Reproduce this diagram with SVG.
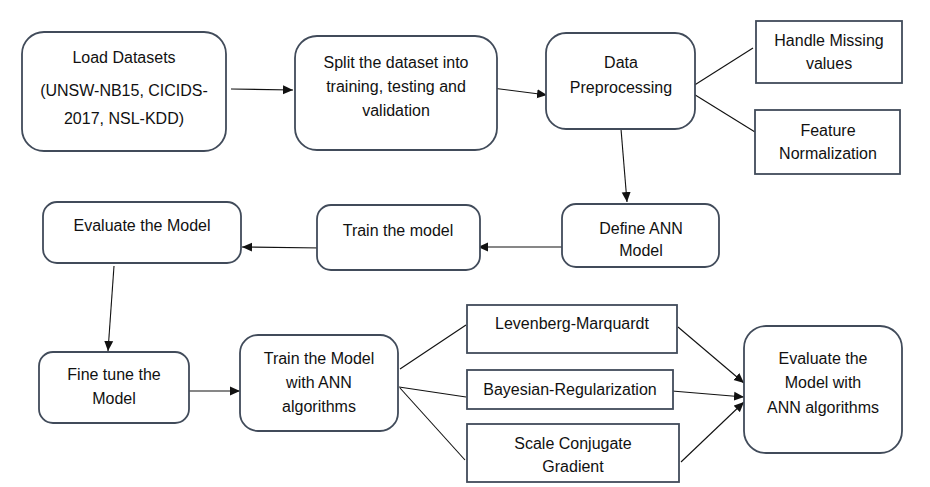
<svg xmlns="http://www.w3.org/2000/svg" width="930" height="487" viewBox="0 0 930 487">
<style>
.b{fill:#fff;stroke:#414b5a;stroke-width:1.8}
.t{font-family:"Liberation Sans",Arial,sans-serif;font-size:16px;fill:#111;text-anchor:middle}
.c{stroke:#111;stroke-width:1.1;fill:none}
.a{marker-end:url(#ah)}
</style>
<defs>
<marker id="ah" viewBox="0 0 10 10" refX="10" refY="5" markerWidth="10" markerHeight="10" markerUnits="userSpaceOnUse" orient="auto">
<path d="M0,0.5 L10,5 L0,9.5 Z" fill="#111"/>
</marker>
</defs>
<rect width="930" height="487" fill="#fff"/>
<g id="connectors">
<line class="c a" x1="231" y1="89" x2="293" y2="90"/>
<line class="c a" x1="492" y1="88" x2="547" y2="95"/>
<line class="c" x1="693" y1="86" x2="753" y2="48"/>
<line class="c" x1="692" y1="93" x2="755" y2="132"/>
<line class="c a" x1="621" y1="129" x2="627" y2="202"/>
<line class="c a" x1="562" y1="247" x2="478" y2="247"/>
<line class="c a" x1="322" y1="248" x2="242" y2="247"/>
<line class="c a" x1="114" y1="266" x2="108" y2="351"/>
<line class="c a" x1="187" y1="391" x2="240" y2="391"/>
<line class="c" x1="400" y1="369" x2="466" y2="325"/>
<line class="c" x1="399" y1="387" x2="466" y2="397"/>
<line class="c" x1="400" y1="388" x2="465" y2="460"/>
<line class="c a" x1="678" y1="327" x2="744" y2="383"/>
<line class="c a" x1="672" y1="391" x2="744" y2="397"/>
<line class="c a" x1="681" y1="462" x2="744" y2="402"/>
</g>
<g id="load">
<rect class="b" x="22" y="32" width="204" height="119" rx="22"/>
<text class="t" x="124" y="63">Load Datasets</text>
<text class="t" x="124" y="96">(UNSW-NB15, CICIDS-</text>
<text class="t" x="124" y="124">2017, NSL-KDD)</text>
</g>
<g id="split">
<rect class="b" x="295" y="36" width="202" height="114" rx="22"/>
<text class="t" x="396" y="68">Split the dataset into</text>
<text class="t" x="396" y="92">training, testing and</text>
<text class="t" x="396" y="116">validation</text>
</g>
<g id="prep">
<rect class="b" x="546" y="33" width="149" height="96" rx="20"/>
<text class="t" x="621" y="68">Data</text>
<text class="t" x="621" y="93">Preprocessing</text>
</g>
<g id="missing">
<rect class="b" x="756" y="21" width="146" height="62"/>
<text class="t" x="829" y="46">Handle Missing</text>
<text class="t" x="829" y="69">values</text>
</g>
<g id="norm">
<rect class="b" x="755" y="110" width="145" height="64"/>
<text class="t" x="828" y="136">Feature</text>
<text class="t" x="828" y="159">Normalization</text>
</g>
<g id="define">
<rect class="b" x="562" y="204" width="157" height="63" rx="14"/>
<text class="t" x="641" y="234">Define ANN</text>
<text class="t" x="641" y="256">Model</text>
</g>
<g id="train">
<rect class="b" x="317" y="205" width="163" height="65" rx="14"/>
<text class="t" x="398" y="236">Train the model</text>
</g>
<g id="evaluate">
<rect class="b" x="43" y="202" width="198" height="61" rx="14"/>
<text class="t" x="142" y="231">Evaluate the Model</text>
</g>
<g id="finetune">
<rect class="b" x="39" y="352" width="150" height="71" rx="14"/>
<text class="t" x="114" y="380">Fine tune the</text>
<text class="t" x="114" y="404">Model</text>
</g>
<g id="trainann">
<rect class="b" x="240" y="335" width="158" height="96" rx="18"/>
<text class="t" x="319" y="364">Train the Model</text>
<text class="t" x="319" y="388">with ANN</text>
<text class="t" x="319" y="412">algorithms</text>
</g>
<g id="lm">
<rect class="b" x="467" y="305" width="210" height="48"/>
<text class="t" x="572" y="329">Levenberg-Marquardt</text>
</g>
<g id="br">
<rect class="b" x="467" y="370" width="206" height="39"/>
<text class="t" x="570" y="395">Bayesian-Regularization</text>
</g>
<g id="scg">
<rect class="b" x="467" y="424" width="212" height="58"/>
<text class="t" x="573" y="449">Scale Conjugate</text>
<text class="t" x="573" y="472">Gradient</text>
</g>
<g id="evalann">
<rect class="b" x="744" y="326" width="158" height="127" rx="22"/>
<text class="t" x="823" y="364">Evaluate the</text>
<text class="t" x="823" y="388">Model with</text>
<text class="t" x="823" y="413">ANN algorithms</text>
</g>
</svg>
